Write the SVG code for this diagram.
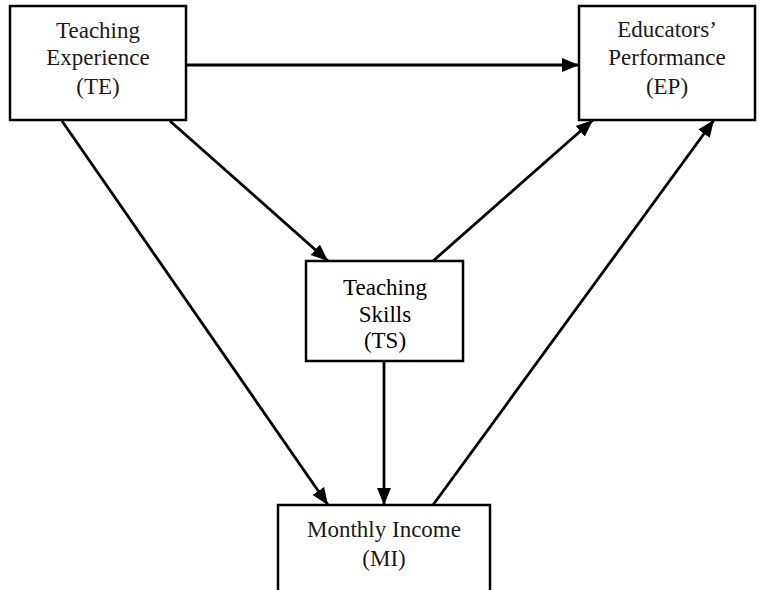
<svg xmlns="http://www.w3.org/2000/svg" width="759" height="590" viewBox="0 0 759 590">
<style>
.box{fill:#fff;stroke:#000;stroke-width:2.5}
.t{font-size:23px;fill:#1a1a1a;text-anchor:middle}
.c{stroke:#000;stroke-width:2.8;fill:none;marker-end:url(#ah)}
</style>
<defs>
<marker id="ah" markerUnits="userSpaceOnUse" markerWidth="18" markerHeight="16" refX="17" refY="8" orient="auto">
<path d="M0,1 L17,8 L0,15 z" fill="#000"/>
</marker>
</defs>
<g id="connectors">
<line class="c" x1="187" y1="65" x2="579" y2="65"/>
<line class="c" x1="62" y1="121" x2="328" y2="505"/>
<line class="c" x1="170" y1="121" x2="328" y2="261"/>
<line class="c" x1="433" y1="261" x2="593" y2="120"/>
<line class="c" x1="384" y1="361" x2="384" y2="505"/>
<line class="c" x1="433" y1="505" x2="714" y2="120"/>
</g>
<g font-family="Liberation Serif, DejaVu Serif, serif">
<g id="TE">
<rect class="box" x="10" y="6" width="176" height="114"/>
<text class="t" x="98" y="38">Teaching</text>
<text class="t" x="98" y="65">Experience</text>
<text class="t" x="98" y="94">(TE)</text>
</g>
<g id="EP">
<rect class="box" x="579" y="6" width="176" height="114"/>
<text class="t" x="667" y="37">Educators’</text>
<text class="t" x="667" y="65">Performance</text>
<text class="t" x="667" y="94">(EP)</text>
</g>
<g id="TS">
<rect class="box" x="306" y="261" width="157" height="100"/>
<text class="t" x="385" y="295" style="fill:#000">Teaching</text>
<text class="t" x="385" y="322" style="fill:#000">Skills</text>
<text class="t" x="385" y="348" style="fill:#000">(TS)</text>
</g>
<g id="MI">
<rect class="box" x="278" y="505" width="212" height="90"/>
<text class="t" x="384" y="537">Monthly Income</text>
<text class="t" x="384" y="566">(MI)</text>
</g>
</g>
</svg>
